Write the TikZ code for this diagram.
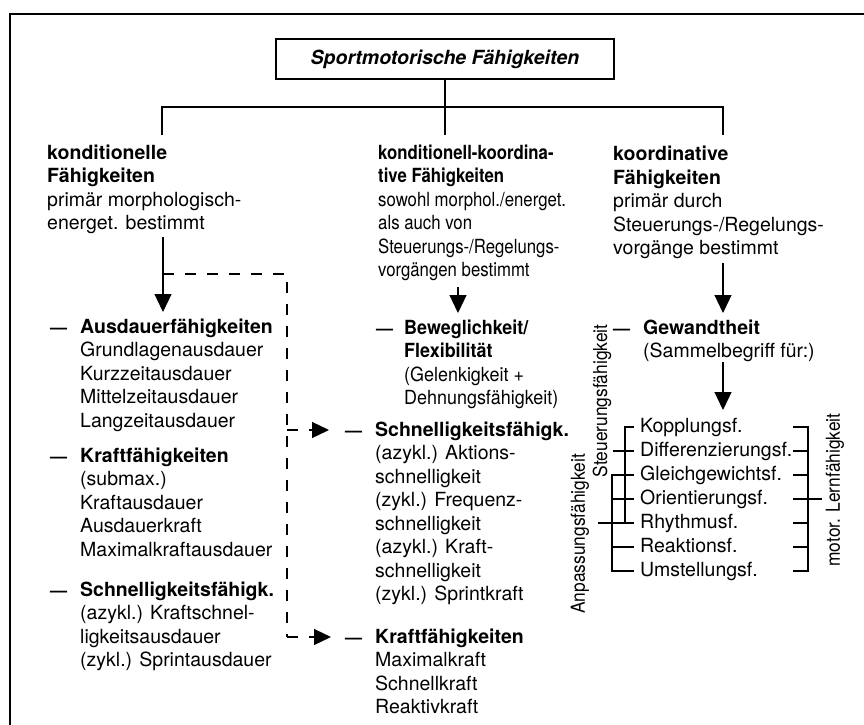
\documentclass[tikz,border=0pt]{standalone}
\usepackage{fontspec}
\setmainfont{TeX Gyre Heros}
\newfontfamily\narrowfont[FakeStretch=0.9]{TeX Gyre Heros}
\newfontfamily\midfont[FakeStretch=0.86]{TeX Gyre Heros}
\newfontfamily\semifont[FakeStretch=0.92]{TeX Gyre Heros}
\usetikzlibrary{arrows.meta}

\begin{document}
\begin{tikzpicture}[x=1pt,y=-1pt,
  txt/.style={anchor=north west, inner sep=0pt, align=left,
    font=\fontsize{19.5}{23.5}\selectfont},
  dashmark/.style={anchor=base west, inner sep=0pt,
    font=\fontsize{17}{20}\selectfont\bfseries},
  item/.style={anchor=west, inner sep=0pt, text height=14pt, text depth=4pt,
    font=\fontsize{19.5}{23.5}\selectfont},
  vlabel/.style={rotate=90, inner sep=0pt,
    font=\narrowfont\fontsize{19.3}{21}\selectfont},
  conn/.style={line width=1.2pt},
  arr/.style={conn, -{Triangle[width=17pt,length=18pt]}},
  dconn/.style={conn, dash pattern=on 11pt off 11pt},
  darr/.style={dconn, -{Triangle[width=16pt,length=17pt]}}
]
\useasboundingbox (0,0) rectangle (864,724);
\fill[white] (0,0) rectangle (864,724);

% outer frame (open towards right and bottom)
\begin{scope}
  \clip (0,0) rectangle (864,724);
  \draw[line width=2.8pt] (10,760) -- (10,14) -- (900,14);
\end{scope}

% title
\node[draw, line width=1.5pt, minimum width=338pt, minimum height=40pt, inner sep=0pt,
  font=\fontsize{19.5}{23.5}\selectfont\bfseries\itshape] (title) at (445,59)
  {Sportmotorische Fähigkeiten};

% tree junctions
\coordinate (jC) at (445,107);
\coordinate (barL) at (162,107);
\coordinate (barR) at (723,107);
\coordinate (dL) at (162,135);
\coordinate (dC) at (445,135);
\coordinate (dR) at (723,135);
\draw[conn] (title.south) -- (jC);
\draw[conn] (dL) -- (barL) -- (barR) -- (dR);
\draw[conn] (jC) -- (dC);

% column headers
\node[txt] (hL) at (47,142.5) {\strut\textbf{konditionelle}\\\textbf{Fähigkeiten}\\primär morphologisch-\\energet. bestimmt};
\node[txt, font=\midfont\fontsize{19.5}{23.5}\selectfont] (hC) at (378,142.5) {\strut\textbf{konditionell-koordina-}\\\textbf{tive Fähigkeiten}\\sowohl morphol./energet.\\als auch von\\Steuerungs-/Regelungs-\\vorgängen bestimmt};
\node[txt] (hR) at (613,144) {\strut\textbf{koordinative}\\\textbf{Fähigkeiten}\\primär durch\\Steuerungs-/Regelungs-\\vorgänge bestimmt};

% left column items
\node[dashmark] (mA) at (50,333) {—};
\node[txt] (iA) at (80,316.5) {\strut\textbf{Ausdauerfähigkeiten}\\Grundlagenausdauer\\Kurzzeitausdauer\\Mittelzeitausdauer\\Langzeitausdauer};
\node[dashmark] (mK) at (50,462) {—};
\node[txt] (iK) at (80,445.5) {\strut\textbf{Kraftfähigkeiten}\\(submax.)\\Kraftausdauer\\Ausdauerkraft\\Maximalkraftausdauer};
\node[dashmark] (mS) at (50,596) {—};
\node[txt] (iS) at (80,579.5) {\strut\textbf{Schnelligkeitsfähigk.}\\(azykl.) Kraftschnel-\\ligkeitsausdauer\\(zykl.) Sprintausdauer};

% centre column items
\node[dashmark] (mB) at (376,334) {—};
\node[txt, font=\semifont\fontsize{19.5}{23.5}\selectfont] (iB) at (404,317.5) {\strut\textbf{Beweglichkeit/}\\\textbf{Flexibilität}\\(Gelenkigkeit +\\Dehnungsfähigkeit)};
\node[dashmark] (mSc) at (345,436) {—};
\node[txt] (iSc) at (375,419.5) {\strut\textbf{Schnelligkeitsfähigk.}\\(azykl.) Aktions-\\schnelligkeit\\(zykl.) Frequenz-\\schnelligkeit\\(azykl.) Kraft-\\schnelligkeit\\(zykl.) Sprintkraft};
\node[dashmark] (mKr) at (345,643) {—};
\node[txt] (iKr) at (375,626.5) {\strut\textbf{Kraftfähigkeiten}\\Maximalkraft\\Schnellkraft\\Reaktivkraft};

% right column items
\node[dashmark] (mG) at (613,334) {—};
\node[txt] (iG) at (643,317.5) {\strut\textbf{Gewandtheit}\\(Sammelbegriff für:)};

\node[item] (k1) at (640,427) {Kopplungsf.};
\node[item] (k2) at (640,451) {Differenzierungsf.};
\node[item] (k3) at (640,475) {Gleichgewichtsf.};
\node[item] (k4) at (640,499) {Orientierungsf.};
\node[item] (k5) at (640,523) {Rhythmusf.};
\node[item] (k6) at (640,547) {Reaktionsf.};
\node[item] (k7) at (640,571) {Umstellungsf.};

% vertical labels of the brackets
\node[vlabel] (steu) at (602,401) {Steuerungsfähigkeit};
\node[vlabel] (anp) at (580,534) {Anpassungsfähigkeit};
\node[vlabel] (lern) at (835,490) {motor. Lernfähigkeit};

% main arrows
\coordinate (aL0) at (163,237);  \coordinate (aL1) at (163,312);
\coordinate (aC0) at (458,287);  \coordinate (aC1) at (458,313);
\coordinate (aR0) at (723,263);  \coordinate (aR1) at (723,313);
\coordinate (aG0) at (723,362);  \coordinate (aG1) at (723,410);
\draw[arr] (aL0) -- (aL1);
\draw[arr] (aC0) -- (aC1);
\draw[arr] (aR0) -- (aR1);
\draw[arr] (aG0) -- (aG1);

% dashed transfer arrows
\coordinate (dS) at (163,274);
\coordinate (dK) at (287,274);
\coordinate (dM) at (287,430);
\coordinate (dE) at (287,637);
\coordinate (tM) at (329,430);
\coordinate (tE) at (331,637);
\draw[dconn] (dS) -- (dK) -- (dE);
\draw[darr] (dM) -- (tM);
\draw[darr] (dE) -- (tE);

% Steuerungsfaehigkeit bracket
\draw[conn] ([xshift=-6pt]k1.west) -| ([xshift=-15pt]k5.west);
\draw[conn] ([xshift=-27pt]k2.west) -- ([xshift=-6pt]k2.west);
% Anpassungsfaehigkeit bracket
\draw[conn] ([xshift=-6pt]k3.west) -| ([xshift=-28pt]k7.west) -- ([xshift=-6pt]k7.west);
\draw[conn] ([xshift=-28pt]k4.west) -- ([xshift=-6pt]k4.west);
\draw[conn] ([xshift=-42pt]k5.west) -- ([xshift=-6pt]k5.west);
\draw[conn] ([xshift=-28pt]k6.west) -- ([xshift=-6pt]k6.west);

% motorische Lernfaehigkeit bracket
\coordinate (rbt) at (793,427);
\coordinate (rbx) at (808,427);
\draw[conn] (k1.west -| rbt) -| (k7.west -| rbx) -- (k7.west -| rbt);
\draw[conn] (k2.west -| rbt) -- (k2.west -| rbx);
\draw[conn] (k3.west -| rbt) -- (k3.west -| rbx);
\draw[conn] (k4.west -| rbt) -- ([xshift=14pt]k4.west -| rbx);
\draw[conn] (k5.west -| rbt) -- (k5.west -| rbx);
\draw[conn] (k6.west -| rbt) -- (k6.west -| rbx);
\end{tikzpicture}
\end{document}
